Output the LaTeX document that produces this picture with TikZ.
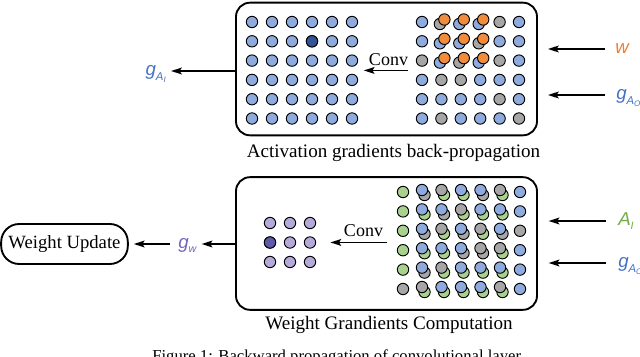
\documentclass[tikz,border=0pt]{standalone}
\usepackage{fontspec}
\setmainfont{Liberation Serif}
\newfontfamily\lsans{Liberation Sans}
\usetikzlibrary{arrows.meta, positioning, calc}
\definecolor{dotb}{HTML}{8FAADC}
\definecolor{dotg}{HTML}{A6A6A6}
\definecolor{dote}{HTML}{A9D18E}
\definecolor{doto}{HTML}{F08C3C}
\definecolor{dotdark}{HTML}{2F5597}
\definecolor{dotp}{HTML}{B4A9D8}
\definecolor{dotpdark}{HTML}{5F5AAA}
\definecolor{lblblue}{HTML}{4472C4}
\definecolor{lblorange}{HTML}{ED7D31}
\definecolor{lblgreen}{HTML}{70AD47}
\definecolor{lblpurple}{HTML}{7064C0}
\newcommand{\subtwo}[3]{#1\raisebox{-4pt}{\fontsize{8.5}{8.5}\selectfont #2\raisebox{-1.5pt}{\fontsize{6}{6}\selectfont #3}}}
\newcommand{\subone}[2]{#1\raisebox{-3pt}{\fontsize{8}{8}\selectfont #2}}

\begin{document}
\begin{tikzpicture}[
        x=0.75pt, y=-0.75pt,
        >={Stealth[length=8pt, width=5pt, inset=1.5pt]},
        panel/.style={draw, line width=1.4pt, rounded corners=10.5pt, minimum width=225.75pt, minimum height=99.5pt, inner sep=0pt},
        pill/.style={draw, line width=1.4pt, rounded corners=13.5pt, minimum width=95pt, minimum height=30pt, font=\fontsize{14}{16}\selectfont},
        caption/.style={inner sep=0pt, anchor=base, font=\fontsize{14.3}{16}\selectfont},
        convtext/.style={inner sep=0pt, anchor=base, font=\fontsize{13.5}{15}\selectfont},
        lbl/.style={inner sep=0pt, text height=7pt, text depth=1pt, anchor=base west, font=\lsans\itshape\fontsize{14}{16}\selectfont},
        arr/.style={->, line width=1.4pt},
        dot/.style={draw=black, line width=0.7pt}
    ]
    \useasboundingbox (0,0) rectangle (640,357);

    \node[panel] (actbox) at (386.5, 69) {};
    \node[caption] (actcap) at (393.5, 157) {Activation gradients back-propagation};
    \node[panel] (wgtbox) at (386.5, 243.5) {};
    \node[caption] (wgtcap) at (389, 329) {Weight Grandients Computation};
    \node[pill] (update) at (64.5, 244) {Weight Update};
    \node[inner sep=0pt, anchor=base west, font=\fontsize{12.5}{14}\selectfont] (figcap) at (152, 361) {Figure 1: Backward propagation of convolutional layer};

    \node[convtext] (conv1) at (388.5, 65) {Conv};
    \node[convtext] (conv2) at (363.5, 236) {Conv};
    \draw[arr] ([yshift=-3.75pt]conv1.south east) -- ([shift={(-3.75pt,-3.75pt)}]conv1.south west);
    \draw[arr] ([shift={(3pt,-4.5pt)}]conv2.south east) -- ([shift={(-10pt,-4.5pt)}]conv2.south west);

    \node[lbl, text=lblorange] (w) at (615, 53) {w};
    \node[lbl, text=lblblue] (gao1) at (616, 99) {\subtwo{g}{A}{O}};
    \node[lbl, text=lblblue, anchor=base east] (gai) at (166, 75) {\subtwo{g}{A}{I}};
    \node[lbl, text=lblgreen] (ai) at (618, 225) {\subone{A}{I}};
    \node[lbl, text=lblblue] (gao2) at (618, 267) {\subtwo{g}{A}{O}};
    \node[lbl, text=lblpurple] (gw) at (178, 248) {\subone{g}{w}};

    \draw[arr, shorten <=7.5pt, shorten >=7.5pt] (w.west) -- (w.west -| actbox.east);
    \draw[arr, shorten <=8pt, shorten >=7.5pt] (gao1.west) -- (gao1.west -| actbox.east);
    \draw[arr, shorten >=3.75pt] (actbox.west |- gai.east) -- (gai.east);
    \draw[arr, shorten <=9pt, shorten >=8pt] (ai.west) -- (ai.west -| wgtbox.east);
    \draw[arr, shorten <=9pt, shorten >=8pt] (gao2.west) -- (gao2.west -| wgtbox.east);
    \draw[arr, shorten >=3.75pt] (wgtbox.west |- gw.east) -- (gw.east);
    \draw[arr, shorten <=6pt, shorten >=3.75pt] (gw.west) -- (gw.west -| update.east);

    \foreach \i in {0,...,5}
        \foreach \j in {0,...,5}
            \filldraw[dot, fill=dotb] (252+20*\i, 22+19.3*\j) circle[radius=5.7];
    \filldraw[dot, fill=dotdark] (312, 41.3) circle[radius=5.7];

    \foreach \row [count=\j from 0] in {
        {b/n,g/o,b/o,b/o,g/n,b/n},
        {b/n,b/o,b/o,g/o,b/n,b/n},
        {g/n,b/o,g/o,b/o,g/n,b/n},
        {b/n,g/n,g/n,b/n,b/n,b/n},
        {b/n,b/n,b/n,b/n,g/n,b/n},
        {b/n,g/n,b/n,b/n,b/n,g/n}}
        \foreach \bs/\ov [count=\i from 0] in \row {
            \if\ov n
                \filldraw[dot, fill=dot\bs] (422+19.4*\i, 22+19.3*\j) circle[radius=5.7];
            \else
                \filldraw[dot, fill=dot\bs] (420.5+19.4*\i, 24+19.3*\j) circle[radius=5.7];
                \filldraw[dot, fill=dot\ov] (425+19.4*\i, 19.5+19.3*\j) circle[radius=5.7];
            \fi
        };

    \foreach \i in {0,...,2}
        \foreach \j in {0,...,2}
            \filldraw[dot, fill=dotp] (270+20*\i, 223+19.5*\j) circle[radius=5.7];
    \filldraw[dot, fill=dotpdark] (270, 242.5) circle[radius=5.7];

    \foreach \row [count=\j from 0] in {
        {e/n,b/g,g/e,b/e,b/g,g/e,b/n},
        {e/n,b/e,b/g,g/e,b/e,b/e,b/n},
        {e/n,b/g,g/e,b/g,g/e,b/g,g/n},
        {e/n,b/e,b/e,b/g,g/g,g/e,b/n},
        {e/n,b/g,g/e,b/e,b/e,b/e,b/n},
        {g/n,g/e,b/e,b/e,b/e,g/e,b/n}}
        \foreach \fr/\bk [count=\i from 0] in \row {
            \if\bk n
                \filldraw[dot, fill=dot\fr] (403+19.5*\i, 192+19.4*\j) circle[radius=5.7];
            \else
                \filldraw[dot, fill=dot\bk] (405+19.5*\i, 195+19.4*\j) circle[radius=5.7];
                \filldraw[dot, fill=dot\fr] (402.5+19.5*\i, 190+19.4*\j) circle[radius=5.7];
            \fi
        };
\end{tikzpicture}
\end{document}
